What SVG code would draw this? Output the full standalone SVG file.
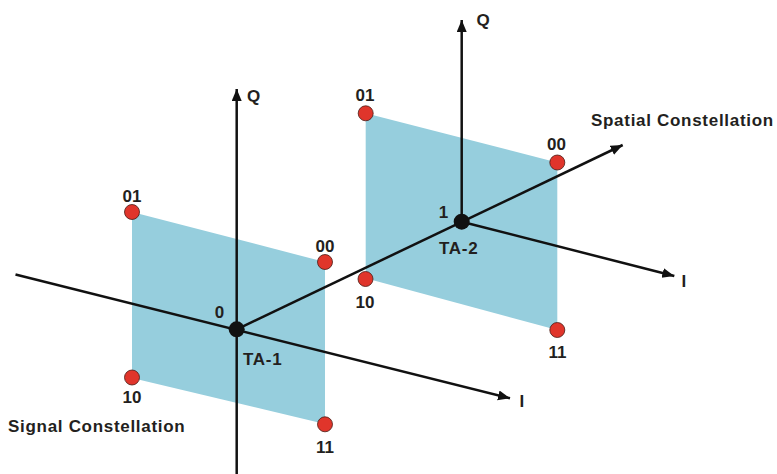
<svg xmlns="http://www.w3.org/2000/svg" width="777" height="474" viewBox="0 0 777 474">
<style>
.plane{fill:#96CEDD;stroke:none}
.axis{stroke:#111;stroke-width:2.5;fill:none}
.pt{fill:#E0352B;stroke:#4a1a14;stroke-width:0.8}
.ta{fill:#111}
text{font-family:"Liberation Sans",Arial,Helvetica,sans-serif;font-weight:bold;font-size:17px;fill:#231F20}
.m{text-anchor:middle}
.ls{letter-spacing:0.7px}
</style>
<defs>
<marker id="arr" markerUnits="userSpaceOnUse" markerWidth="14" markerHeight="12" refX="12" refY="5" orient="auto">
<path d="M0,0 L12,5 L0,10 z" fill="#111"/>
</marker>
</defs>
<g id="plane-1">
<polygon class="plane" points="132,212 325,262 325,424 132,378"/>
</g>
<g id="plane-2">
<polygon class="plane" points="365.7,113.3 557.3,162.5 557.3,330 365.7,278.3"/>
</g>
<g id="connectors">
<line class="axis" x1="236.7" y1="474" x2="236.7" y2="89" marker-end="url(#arr)"/>
<line class="axis" x1="15.5" y1="274.5" x2="510" y2="398.3" marker-end="url(#arr)"/>
<line class="axis" x1="236.7" y1="329.3" x2="622.7" y2="145" marker-end="url(#arr)"/>
<line class="axis" x1="461.7" y1="221.7" x2="461.7" y2="20" marker-end="url(#arr)"/>
<line class="axis" x1="461.7" y1="221.7" x2="674.3" y2="276" marker-end="url(#arr)"/>
</g>
<g id="ta-1">
<circle class="ta" cx="236.7" cy="329.3" r="8"/>
<text x="219.5" y="318" class="m">0</text>
<text x="243" y="365" class="ls">TA-1</text>
</g>
<g id="ta-2">
<circle class="ta" cx="461.7" cy="221.7" r="8"/>
<text x="443.5" y="218" class="m">1</text>
<text x="439" y="254" class="ls">TA-2</text>
</g>
<g id="s1-01"><circle class="pt" cx="132" cy="212" r="7.5"/><text x="132" y="202" class="m">01</text></g>
<g id="s1-00"><circle class="pt" cx="325" cy="262" r="7.5"/><text x="325" y="252" class="m">00</text></g>
<g id="s1-10"><circle class="pt" cx="132" cy="377.5" r="7.5"/><text x="132" y="403" class="m">10</text></g>
<g id="s1-11"><circle class="pt" cx="325" cy="424.3" r="7.5"/><text x="325" y="453" class="m">11</text></g>
<g id="s2-01"><circle class="pt" cx="365.7" cy="113.3" r="7.5"/><text x="365" y="100.5" class="m">01</text></g>
<g id="s2-00"><circle class="pt" cx="557.3" cy="162.5" r="7.5"/><text x="556.5" y="150" class="m">00</text></g>
<g id="s2-10"><circle class="pt" cx="365.5" cy="279" r="7.5"/><text x="365" y="308" class="m">10</text></g>
<g id="s2-11"><circle class="pt" cx="557.3" cy="330" r="7.5"/><text x="557.5" y="358" class="m">11</text></g>
<g id="labels">
<text x="247" y="102">Q</text>
<text x="476.5" y="25.5">Q</text>
<text x="519.5" y="406.5">I</text>
<text x="681.5" y="286.5">I</text>
<text x="591" y="125.5" class="ls">Spatial Constellation</text>
<text x="8" y="431.5" class="ls">Signal Constellation</text>
</g>
</svg>
